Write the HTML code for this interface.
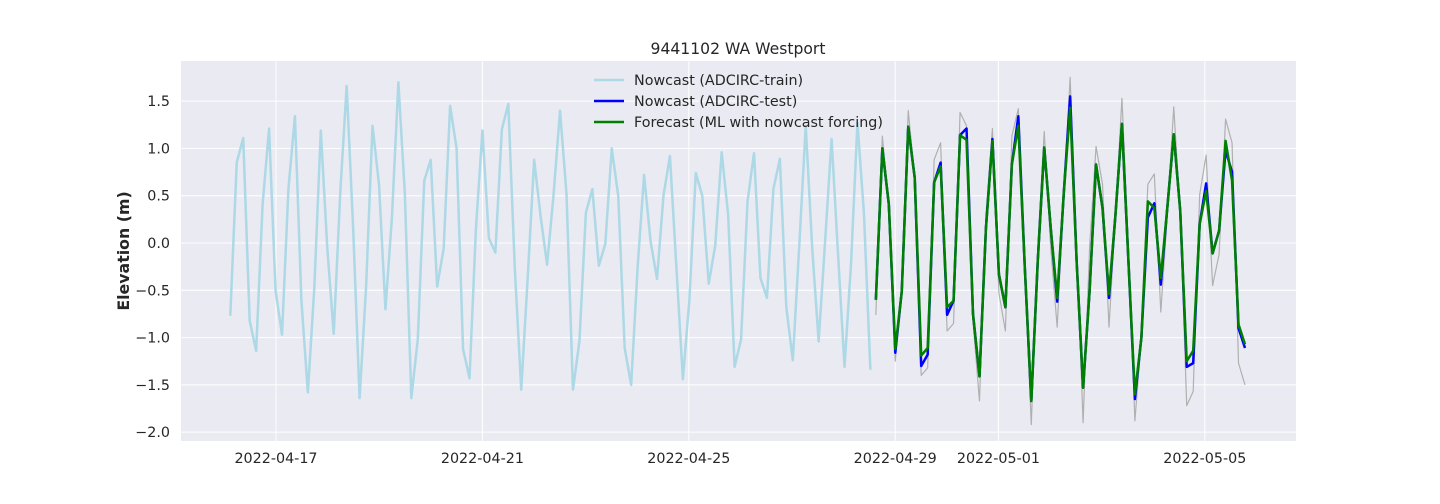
<!DOCTYPE html>
<html><head><meta charset="utf-8"><style>
body{margin:0;background:#fff;}
svg{display:block;font-family:"DejaVu Sans","Liberation Sans",sans-serif;}
</style></head><body>
<svg id="chart" width="1440" height="504">
<rect x="181" y="61" width="1115" height="380" fill="#eaeaf2"/>
<g id="grid"></g>
<g id="series"></g>
<g id="axes"></g>
<text x="738" y="54" font-size="15.6" text-anchor="middle" fill="#262626">9441102 WA Westport</text>
<text transform="translate(129,251) rotate(-90)" font-size="15.8" font-weight="bold" text-anchor="middle" fill="#262626">Elevation (m)</text>
<g>
<line x1="594" y1="80" x2="624" y2="80" stroke="#add8e6" stroke-width="2.5"/>
<text x="634" y="85" font-size="14.3" fill="#262626">Nowcast (ADCIRC-train)</text>
<line x1="594" y1="101" x2="624" y2="101" stroke="#0000ff" stroke-width="2.5"/>
<text x="634" y="106" font-size="14.3" fill="#262626">Nowcast (ADCIRC-test)</text>
<line x1="594" y1="122" x2="624" y2="122" stroke="#008000" stroke-width="2.5"/>
<text x="634" y="127" font-size="14.3" fill="#262626">Forecast (ML with nowcast forcing)</text>
</g>
</svg>
<script>
const trainValues=[-0.77,0.85,1.11,-0.82,-1.14,0.41,1.21,-0.50,-0.97,0.58,1.34,-0.61,-1.58,-0.47,1.19,-0.05,-0.96,0.52,1.66,0.16,-1.64,-0.47,1.24,0.62,-0.70,0.27,1.70,0.52,-1.64,-1.02,0.66,0.88,-0.46,-0.06,1.45,1.00,-1.12,-1.43,0.16,1.19,0.05,-0.10,1.20,1.47,-0.26,-1.55,-0.37,0.88,0.28,-0.23,0.51,1.40,0.52,-1.55,-1.04,0.32,0.57,-0.24,-0.01,1.00,0.50,-1.11,-1.50,-0.26,0.72,0.02,-0.38,0.50,0.92,-0.26,-1.44,-0.61,0.74,0.50,-0.43,-0.03,0.96,0.30,-1.31,-1.02,0.44,0.95,-0.37,-0.58,0.57,0.89,-0.68,-1.24,-0.03,1.24,-0.05,-1.04,0.02,1.10,-0.12,-1.31,-0.23,1.27,0.32,-1.34];
const forecastValues=[-0.60,1.00,0.41,-1.12,-0.51,1.23,0.69,-1.19,-1.11,0.64,0.81,-0.68,-0.61,1.14,1.09,-0.75,-1.41,0.16,1.08,-0.33,-0.68,0.83,1.24,-0.26,-1.67,-0.19,1.01,0.16,-0.58,0.51,1.43,-0.19,-1.53,-0.51,0.83,0.37,-0.54,0.30,1.26,-0.19,-1.60,-1.00,0.44,0.37,-0.37,0.37,1.15,0.34,-1.25,-1.14,0.20,0.55,-0.11,0.13,1.08,0.66,-0.86,-1.07];
const testValues=[-0.60,1.00,0.41,-1.16,-0.51,1.23,0.69,-1.30,-1.18,0.64,0.85,-0.76,-0.61,1.14,1.21,-0.75,-1.41,0.16,1.10,-0.33,-0.68,0.83,1.34,-0.26,-1.67,-0.19,1.01,0.16,-0.62,0.51,1.55,-0.19,-1.53,-0.51,0.83,0.37,-0.58,0.30,1.26,-0.19,-1.65,-1.00,0.27,0.42,-0.44,0.37,1.15,0.34,-1.31,-1.27,0.20,0.63,-0.11,0.13,0.98,0.75,-0.90,-1.11];
const obsValues=[-0.76,1.13,0.41,-1.25,-0.46,1.40,0.69,-1.40,-1.32,0.88,1.06,-0.93,-0.85,1.38,1.24,-0.83,-1.67,0.30,1.21,-0.53,-0.93,1.13,1.42,-0.33,-1.92,-0.05,1.18,-0.05,-0.89,0.51,1.75,-0.05,-1.90,-0.05,1.02,0.62,-0.89,0.30,1.53,-0.05,-1.88,-1.00,0.62,0.73,-0.73,0.30,1.44,0.30,-1.72,-1.57,0.51,0.93,-0.45,-0.12,1.31,1.06,-1.27,-1.50];
const yTicks=[-2.0,-1.5,-1.0,-0.5,0.0,0.5,1.0,1.5];
const xTickLabels=["2022-04-17","2022-04-21","2022-04-25","2022-04-29","2022-05-01","2022-05-05"];
// time in days since 2022-04-17 00:00
const trainStartDay=-0.886, trainStepDay=0.1253;
const testStartDay=11.625, testStepDay=0.1255;
const NS="http://www.w3.org/2000/svg";
const X0=181,X1=1296,Y0=61,Y1=441;
const dMin=-1.841,dMax=19.767;
function xs(d){return X0+(d-dMin)/(dMax-dMin)*(X1-X0);}
function ys(v){return 243-v*94.58;}
function dayOf(label){const t=Date.UTC(+label.slice(0,4),+label.slice(5,7)-1,+label.slice(8,10));return (t-Date.UTC(2022,3,17))/86400000;}
const grid=document.getElementById('grid'),axes=document.getElementById('axes'),series=document.getElementById('series');
yTicks.forEach(v=>{
 const l=document.createElementNS(NS,'line');
 l.setAttribute('x1',X0);l.setAttribute('x2',X1);l.setAttribute('y1',ys(v));l.setAttribute('y2',ys(v));
 l.setAttribute('stroke','#fff');l.setAttribute('stroke-width','1');
 
 
 grid.appendChild(l);
 const t=document.createElementNS(NS,'text');
 t.setAttribute('x',170);t.setAttribute('y',ys(v)+5);t.setAttribute('text-anchor','end');t.setAttribute('font-size','14.3');t.setAttribute('fill','#262626');
 t.textContent=(v<0?'\u2212':'')+Math.abs(v).toFixed(1);
 
 
 axes.appendChild(t);
});
xTickLabels.forEach(s=>{
 const x=xs(dayOf(s));
 const l=document.createElementNS(NS,'line');
 l.setAttribute('x1',x);l.setAttribute('x2',x);l.setAttribute('y1',Y0);l.setAttribute('y2',Y1);
 l.setAttribute('stroke','#fff');l.setAttribute('stroke-width','1');
 
 
 grid.appendChild(l);
 const t=document.createElementNS(NS,'text');
 t.setAttribute('x',x);t.setAttribute('y',463);t.setAttribute('text-anchor','middle');t.setAttribute('font-size','14.3');t.setAttribute('fill','#262626');
 t.textContent=s;
 
 
 axes.appendChild(t);
});
function draw(vals,start,step,color,w,name){
 const p=document.createElementNS(NS,'polyline');
 p.setAttribute('points',vals.map((v,i)=>xs(start+i*step).toFixed(2)+','+ys(v).toFixed(2)).join(' '));
 p.setAttribute('fill','none');p.setAttribute('stroke',color);p.setAttribute('stroke-width',w);p.setAttribute('stroke-linejoin','round');
 
 
 series.appendChild(p);
}
draw(trainValues,trainStartDay,trainStepDay,'#add8e6',2.5,'train-line');
draw(obsValues,testStartDay,testStepDay,'#b0b0b0',1.2,'observed-line');
draw(testValues,testStartDay,testStepDay,'#0000ff',2.5,'test-line');
draw(forecastValues,testStartDay,testStepDay,'#008000',2.5,'forecast-line');
</script>
</body></html>
